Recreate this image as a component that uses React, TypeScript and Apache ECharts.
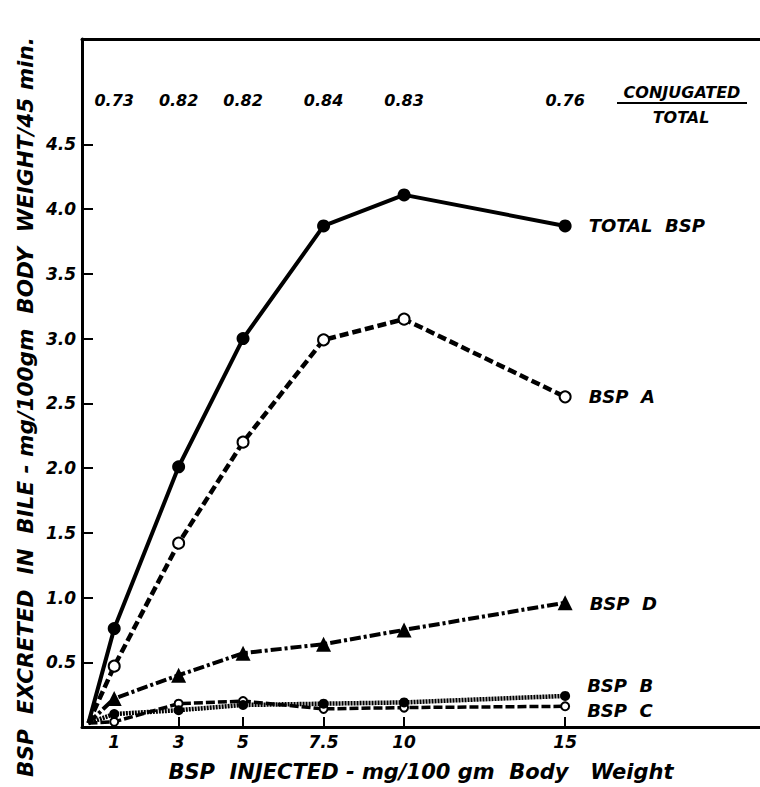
import React, { useEffect, useRef } from "react";
import * as echarts from "echarts";

// Dose injected (mg/100 gm body weight)
const doses = [1, 3, 5, 7.5, 10, 15];
// BSP excreted in bile (mg/100 gm body weight / 45 min)
const totalBsp = [0.76, 2.01, 3.0, 3.87, 4.11, 3.87];
const bspA = [0.47, 1.42, 2.2, 2.99, 3.15, 2.55];
const bspD = [0.22, 0.4, 0.57, 0.64, 0.75, 0.96];
const bspB = [0.1, 0.13, 0.17, 0.18, 0.19, 0.24];
const bspC = [0.04, 0.18, 0.2, 0.14, 0.15, 0.16];
// conjugated / total ratio at each dose
const conjugatedRatio = [0.73, 0.82, 0.82, 0.84, 0.83, 0.76];
// common starting point of all curves
const origin = [0.2, 0.03];
const yTicks = [0.5, 1, 1.5, 2, 2.5, 3, 3.5, 4, 4.5];
const RATIO_ROW_Y = 4.84;

const FONT = "'DejaVu Sans', 'Liberation Sans', sans-serif";

function buildSeries(
  name: string,
  values: number[],
  labelText: string,
  labelDy: number,
  lineType: any,
  lineWidth: number,
  symbol: string,
  symbolSize: number,
  filled: boolean
) {
  const last = values.length - 1;
  const data: any[] = [{ value: origin, symbol: "none" }];
  values.forEach((v, i) => {
    const item: any = { value: [doses[i], v] };
    if (i === last) {
      item.label = {
        show: true,
        formatter: labelText,
        position: "right",
        distance: 17,
        offset: [0, labelDy],
        color: "#000",
        fontFamily: FONT,
        fontStyle: "italic",
        fontWeight: "bold",
        fontSize: 18,
      };
    }
    data.push(item);
  });
  return {
    name,
    type: "line",
    data,
    symbol,
    symbolSize,
    showSymbol: true,
    lineStyle: { color: "#000", width: lineWidth, type: lineType, cap: "butt" },
    itemStyle: filled
      ? { color: "#000", borderColor: "#000", borderWidth: 0 }
      : { color: "#fff", borderColor: "#000", borderWidth: 2 },
    label: { show: false },
    z: 3,
    silent: true,
  };
}

export default function App() {
  const ref = useRef<HTMLDivElement>(null);

  useEffect(() => {
    if (!ref.current) return;
    const chart = echarts.init(ref.current, undefined, { renderer: "svg" });

    const tickText = {
      color: "#000",
      fontFamily: FONT,
      fontStyle: "italic",
      fontWeight: "bold",
      fontSize: 17,
    };

    const option: any = {
      animation: false,
      backgroundColor: "#fff",
      grid: { left: 82, right: 0, top: 39, bottom: 54 },
      xAxis: [
        {
          type: "value",
          min: 0,
          max: 21.05,
          axisLine: { show: true, onZero: false, lineStyle: { color: "#000", width: 3 } },
          axisTick: {
            show: true,
            inside: true,
            length: 10,
            customValues: doses,
            lineStyle: { color: "#000", width: 2 },
          },
          axisLabel: {
            show: true,
            customValues: doses,
            margin: 6,
            formatter: (v: number) => String(v),
            ...tickText,
          },
          splitLine: { show: false },
          name: "BSP  INJECTED - mg/100 gm  Body   Weight",
          nameLocation: "middle",
          nameGap: 34,
          nameTextStyle: {
            color: "#000",
            fontFamily: FONT,
            fontStyle: "italic",
            fontWeight: "bold",
            fontSize: 21,
          },
        },
        {
          type: "value",
          position: "top",
          min: 0,
          max: 21.05,
          axisLine: { show: true, onZero: false, lineStyle: { color: "#000", width: 3 } },
          axisTick: { show: false },
          axisLabel: { show: false },
          splitLine: { show: false },
        },
      ],
      yAxis: {
        type: "value",
        min: 0,
        max: 5.314,
        interval: 0.5,
        axisLine: { show: true, onZero: false, lineStyle: { color: "#000", width: 3 } },
        axisTick: {
          show: true,
          inside: true,
          length: 11,
          customValues: yTicks,
          lineStyle: { color: "#000", width: 2 },
        },
        axisLabel: {
          show: true,
          customValues: yTicks,
          margin: 6,
          formatter: (v: number) => v.toFixed(1),
          ...tickText,
        },
        splitLine: { show: false },
      },
      graphic: [
        {
          type: "text",
          x: 25,
          y: 407,
          rotation: Math.PI / 2,
          style: {
            text: "BSP  EXCRETED  IN  BILE - mg/100gm  BODY  WEIGHT/45 min.",
            fill: "#000",
            font: `italic bold 21.5px ${FONT}`,
            align: "center",
            verticalAlign: "middle",
          },
        },
        {
          type: "text",
          x: 682,
          y: 92,
          style: {
            text: "CONJUGATED",
            fill: "#000",
            font: `italic bold 16px ${FONT}`,
            align: "center",
            verticalAlign: "middle",
          },
        },
        {
          type: "line",
          shape: { x1: 617, y1: 103, x2: 747, y2: 103 },
          style: { stroke: "#000", lineWidth: 2 },
        },
        {
          type: "text",
          x: 681,
          y: 117,
          style: {
            text: "TOTAL",
            fill: "#000",
            font: `italic bold 16px ${FONT}`,
            align: "center",
            verticalAlign: "middle",
          },
        },
      ],
      series: [
        buildSeries("BSP C", bspC, "BSP  C", 4, [9, 3], 3.5, "circle", 8, false),
        buildSeries("BSP B", bspB, "BSP  B", -10, [2, 1], 4.5, "circle", 10, true),
        buildSeries("BSP D", bspD, "BSP  D", 1, [11, 3, 3, 3], 4, "triangle", 15, true),
        buildSeries("BSP A", bspA, "BSP  A", 0, [9, 4], 4.5, "circle", 11, false),
        buildSeries("TOTAL BSP", totalBsp, "TOTAL  BSP", 0, "solid", 4, "circle", 13, true),
        {
          name: "ratio",
          type: "scatter",
          silent: true,
          symbolSize: 0,
          itemStyle: { color: "#000", opacity: 1 },
          data: doses.map((d) => [d, RATIO_ROW_Y]),
          label: {
            show: true,
            position: "inside",
            formatter: (p: any) => conjugatedRatio[p.dataIndex].toFixed(2),
            color: "#000",
            opacity: 1,
            textBorderWidth: 0,
            fontFamily: FONT,
            fontStyle: "italic",
            fontWeight: "bold",
            fontSize: 16,
          },
        },
      ],
    };

    chart.setOption(option);
    return () => chart.dispose();
  }, []);

  return (
    <div
      ref={ref}
      style={{ position: "fixed", left: 0, top: 0, width: 760, height: 787, background: "#fff" }}
    />
  );
}
